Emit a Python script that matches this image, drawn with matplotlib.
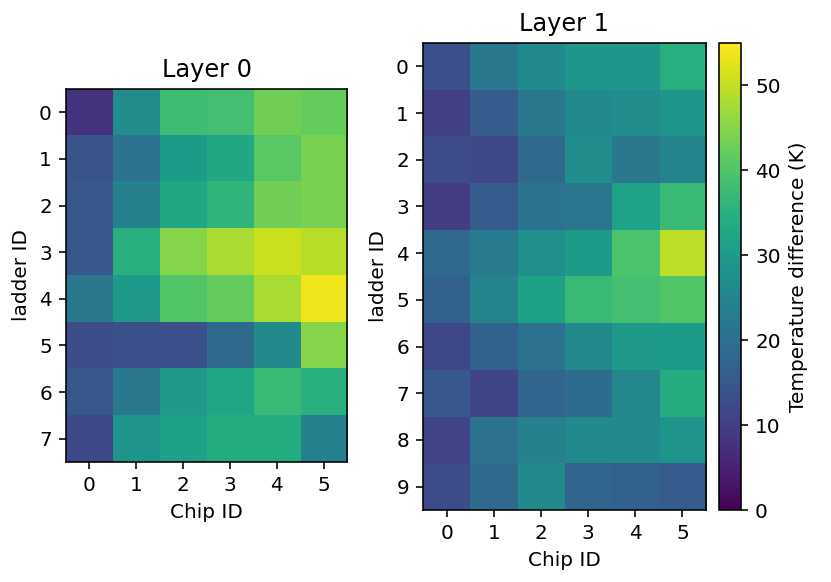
import matplotlib.pyplot as plt
import numpy as np

chips = [0, 1, 2, 3, 4, 5]

layer0_ladders = [0, 1, 2, 3, 4, 5, 6, 7]
layer0_temps = [
    [8, 27, 38, 38.5, 43, 42],
    [14, 21, 30, 33, 41, 44],
    [15, 24, 33, 36, 43, 44],
    [15, 35, 45, 48, 50.5, 49],
    [22, 29.5, 40, 42, 48, 53.5],
    [13, 13.5, 13.5, 19, 26, 45],
    [15, 22, 29.5, 32.5, 37, 35],
    [12, 28.5, 31.5, 34, 34, 24],
]

layer1_ladders = [0, 1, 2, 3, 4, 5, 6, 7, 8, 9]
layer1_temps = [
    [13.5, 22, 26, 29, 29, 34.5],
    [10.5, 16, 22, 26, 27, 29],
    [12.5, 12, 19, 27, 22, 24.5],
    [10, 16, 21, 21.5, 32, 37],
    [19, 22.5, 27.5, 30, 39.5, 49.5],
    [17, 24.5, 31.5, 37, 38.5, 40],
    [12, 17, 20.5, 26, 29.5, 30],
    [15, 11.5, 18, 19.5, 25.5, 34],
    [11, 20.5, 24, 26, 26, 28.5],
    [12.5, 19, 26, 18, 17, 16],
]

vmin, vmax = 0, 55

fig = plt.figure(figsize=(831 / 144, 582 / 144), dpi=144)

ax0 = fig.add_axes([0.0794, 0.2062, 0.3382, 0.6409])
ax1 = fig.add_axes([0.509, 0.1237, 0.3406, 0.8024])
cax = fig.add_axes([0.8652, 0.1237, 0.0265, 0.8024])

ax0.imshow(np.array(layer0_temps), cmap="viridis", vmin=vmin, vmax=vmax, aspect="auto")
ax0.set_title("Layer 0")
ax0.set_xticks(range(len(chips)))
ax0.set_xticklabels(chips)
ax0.set_yticks(range(len(layer0_ladders)))
ax0.set_yticklabels(layer0_ladders)
ax0.set_xlabel("Chip ID")
ax0.set_ylabel("ladder ID")

im = ax1.imshow(np.array(layer1_temps), cmap="viridis", vmin=vmin, vmax=vmax, aspect="auto")
ax1.set_title("Layer 1")
ax1.set_xticks(range(len(chips)))
ax1.set_xticklabels(chips)
ax1.set_yticks(range(len(layer1_ladders)))
ax1.set_yticklabels(layer1_ladders)
ax1.set_xlabel("Chip ID")
ax1.set_ylabel("ladder ID")

cbar = fig.colorbar(im, cax=cax)
cbar.set_label("Temperature difference (K)")

fig.savefig("out.png", dpi=144)
